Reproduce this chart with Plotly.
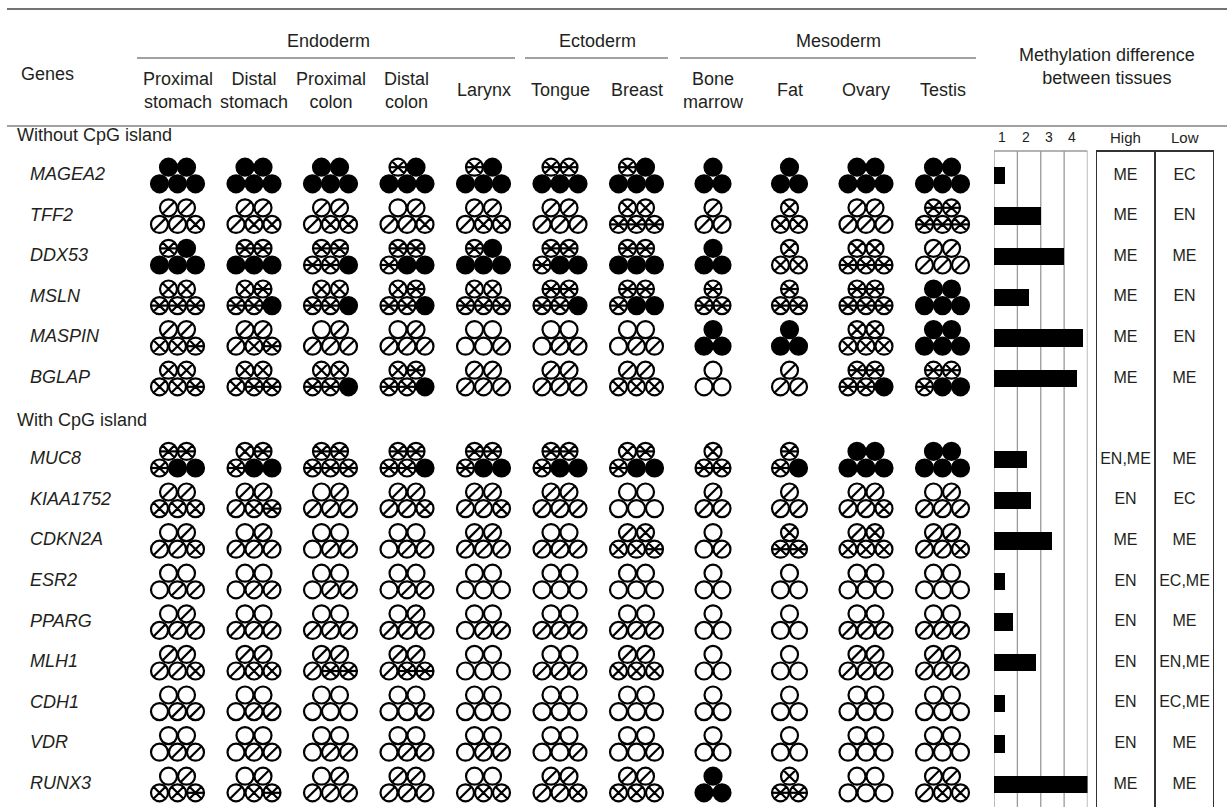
import math
import plotly.graph_objects as go

W, H = 1227, 807

# ---------------- data ----------------
tissues = ["Proximal<br>stomach", "Distal<br>stomach", "Proximal<br>colon", "Distal<br>colon",
           "Larynx", "Tongue", "Breast", "Bone<br>marrow", "Fat", "Ovary", "Testis"]
germ_layers = ["Endoderm", "Ectoderm", "Mesoderm"]

genes_without_cpg = ["MAGEA2", "TFF2", "DDX53", "MSLN", "MASPIN", "BGLAP"]
genes_with_cpg = ["MUC8", "KIAA1752", "CDKN2A", "ESR2", "PPARG", "MLH1", "CDH1", "VDR", "RUNX3"]

# methylation level of each sample (0 = none ... 4 = full), per tissue
# order within a tissue: top row left->right, then bottom row left->right
methylation = {
    "MAGEA2":   ["44444", "44444", "44444", "34444", "34444", "33444", "34444", "444", "444", "44444", "44444"],
    "TFF2":     ["11112", "11122", "11122", "01112", "11122", "11111", "22333", "111", "222", "11111", "33333"],
    "DDX53":    ["34444", "33444", "33334", "33344", "34444", "33344", "33444", "444", "222", "22333", "11111"],
    "MSLN":     ["22333", "23334", "22334", "23334", "22333", "33334", "33344", "333", "333", "33333", "44444"],
    "MASPIN":   ["11223", "11123", "01111", "01111", "00001", "00011", "00011", "444", "444", "22222", "44444"],
    "BGLAP":    ["22223", "22233", "22334", "23334", "11111", "11111", "11222", "000", "111", "33334", "33344"],
    "MUC8":     ["33344", "23344", "33333", "33334", "33344", "33344", "23344", "233", "334", "44444", "44444"],
    "KIAA1752": ["11222", "11123", "01111", "11112", "11112", "11111", "00000", "111", "111", "11112", "01111"],
    "CDKN2A":   ["01112", "01111", "00011", "00011", "11111", "00111", "12223", "001", "233", "12222", "11112"],
    "ESR2":     ["00011", "00011", "00011", "00011", "00000", "00000", "00000", "000", "000", "00000", "00000"],
    "PPARG":    ["01111", "00111", "00111", "01111", "00011", "00111", "00111", "000", "000", "00111", "00111"],
    "MLH1":     ["11112", "11122", "11133", "11133", "00000", "00111", "11222", "000", "000", "11111", "11111"],
    "CDH1":     ["00011", "00011", "00000", "00001", "00000", "00000", "00000", "000", "000", "00000", "00000"],
    "VDR":      ["00011", "00011", "00011", "00011", "00011", "00001", "00001", "000", "000", "00000", "00000"],
    "RUNX3":    ["01223", "01123", "01111", "11111", "00122", "11112", "11222", "444", "233", "00000", "11122"],
}

# methylation difference score (scale 1-4) per gene
diff_score = [0.47, 2.0, 3.0, 1.5, 3.8, 3.55,
              1.42, 1.6, 2.47, 0.47, 0.83, 1.8, 0.47, 0.47, 4.0]
high_tissue = ["ME", "ME", "ME", "ME", "ME", "ME",
               "EN,ME", "EN", "ME", "EN", "EN", "EN", "EN", "EN", "ME"]
low_tissue = ["EC", "EN", "ME", "EN", "EN", "ME",
              "ME", "EC", "ME", "EC,ME", "ME", "EN,ME", "EC,ME", "ME", "ME"]
score_ticks = ["1", "2", "3", "4"]

# ---------------- layout geometry (pixels) ----------------
X0, DX = 177.5, 76.5      # centre of first tissue column, column pitch
Y0, DY = 175.5, 40.6      # centre of first gene row, row pitch
SP_X, SP_Y = 18.0, 8.3    # circle pitch inside a cluster
CIRCLE = 17               # marker diameter
LW = 2.2                  # outline width
INK = "#231f20"
FONT = "Liberation Sans, Arial, Helvetica, sans-serif"
FS = 18

genes = genes_without_cpg + genes_with_cpg
gene_rows = list(range(len(genes_without_cpg))) + \
    [len(genes_without_cpg) + 1 + k for k in range(len(genes_with_cpg))]
section_rows = [-1, len(genes_without_cpg)]


def px(x):
    return x / W


def py(y):
    return 1 - y / H


offsets5 = [(-SP_X / 2, -SP_Y), (SP_X / 2, -SP_Y), (-SP_X, SP_Y), (0, SP_Y), (SP_X, SP_Y)]
offsets3 = [(0, -SP_Y), (-SP_X / 2, SP_Y), (SP_X / 2, SP_Y)]

pts = {lvl: ([], []) for lvl in range(5)}
for g, row in zip(genes, gene_rows):
    for ti, cell in enumerate(methylation[g]):
        offs = offsets5 if len(cell) == 5 else offsets3
        for ch, (ox, oy) in zip(cell, offs):
            lvl = int(ch)
            pts[lvl][0].append(ti + ox / DX)
            pts[lvl][1].append(row + oy / DY)

fig = go.Figure()


def circles(lvl, symbol, size):
    xs, ys = pts[lvl]
    fig.add_trace(go.Scatter(
        x=xs, y=ys, mode="markers", hoverinfo="skip", showlegend=False,
        marker=dict(symbol=symbol, size=size, color="black",
                    line=dict(color="black", width=LW))))


# plotly's line-ne spans the half-diagonal, line-ew spans 1.4 r
circles(0, "circle-open", CIRCLE)
circles(1, "circle-open", CIRCLE)
circles(1, "line-ne-open", CIRCLE / math.sqrt(2))
circles(2, "circle-x-open", CIRCLE)
circles(3, "circle-x-open", CIRCLE)
circles(3, "line-ew-open", CIRCLE / 1.4)
circles(4, "circle", CIRCLE)

# gene names and section titles
fig.add_trace(go.Scatter(
    x=[(30 - X0) / DX] * len(genes), y=gene_rows, mode="text",
    text=[f"<i>{g}</i>" for g in genes], textposition="middle right",
    textfont=dict(family=FONT, size=FS, color=INK), hoverinfo="skip", showlegend=False))
fig.add_trace(go.Scatter(
    x=[(17 - X0) / DX] * 2, y=[r + 2 / DY for r in section_rows], mode="text",
    text=["Without CpG island", "With CpG island"], textposition="middle right",
    textfont=dict(family=FONT, size=FS, color=INK), hoverinfo="skip", showlegend=False))

# methylation difference bars
fig.add_trace(go.Bar(
    x=diff_score, y=gene_rows, orientation="h", base=0, width=17.5 / DY,
    marker=dict(color="black", line=dict(width=0)), xaxis="x2", yaxis="y2",
    hoverinfo="skip", showlegend=False))

# high / low tissue labels
for col, vals in ((0.5, high_tissue), (1.5, low_tissue)):
    fig.add_trace(go.Scatter(
        x=[col] * len(vals), y=gene_rows, mode="text", text=vals,
        textfont=dict(family=FONT, size=16, color=INK), xaxis="x3", yaxis="y2",
        hoverinfo="skip", showlegend=False))

BAR_TOP = 151
shapes = []
# table rules
for y, x0, x1, w in ((9, 7, W, 1.5), (126, 7, W, 1.2),
                     (58, 137, 515, 1.2), (58, 525, 668, 1.2), (58, 680, 976, 1.2)):
    shapes.append(dict(type="line", xref="paper", yref="paper", x0=px(x0), x1=px(x1),
                       y0=py(y), y1=py(y), line=dict(color="#444", width=w)))
# score grid (under the bars)
for k in range(5):
    shapes.append(dict(type="line", xref="x2", yref="paper", x0=k, x1=k, layer="below",
                       y0=0, y1=py(BAR_TOP), line=dict(color="#9a9a9a", width=1.3)))
shapes.append(dict(type="line", xref="x2", yref="paper", x0=0, x1=4, layer="below",
                   y0=py(BAR_TOP), y1=py(BAR_TOP), line=dict(color="#9a9a9a", width=1.3)))
# high / low box
for k in range(3):
    shapes.append(dict(type="line", xref="x3", yref="paper", x0=k, x1=k,
                       y0=0, y1=py(BAR_TOP), line=dict(color="#333", width=2)))
shapes.append(dict(type="line", xref="x3", yref="paper", x0=0, x1=2,
                   y0=py(BAR_TOP), y1=py(BAR_TOP), line=dict(color="#333", width=2)))

ann = []


def label(text, x, y, size=FS, xref="paper", xanchor="center"):
    ann.append(dict(text=text, x=x if xref != "paper" else px(x), y=py(y), xref=xref, yref="paper",
                    xanchor=xanchor, yanchor="middle", showarrow=False,
                    font=dict(family=FONT, size=size, color=INK)))


label("Genes", 47, 74)
for name, cx in zip(germ_layers, (328, 597, 838)):
    label(name, cx, 41)
for ti, t in enumerate(tissues):
    label(t, X0 + ti * DX, 90)
label("Methylation difference<br>between tissues", 1107, 67)
for k, t in enumerate(score_ticks):
    label(t, k + 0.35, 137, size=14, xref="x2")
label("High", 0.5, 137, size=15, xref="x3")
label("Low", 1.5, 137, size=15, xref="x3")

hidden = dict(visible=False, showgrid=False, zeroline=False, fixedrange=True)
fig.update_layout(
    width=W, height=H, margin=dict(l=0, r=0, t=0, b=0),
    paper_bgcolor="white", plot_bgcolor="rgba(0,0,0,0)",
    shapes=shapes, annotations=ann, bargap=0,
    xaxis=dict(range=[-X0 / DX, (W - X0) / DX], domain=[0, 1], **hidden),
    yaxis=dict(range=[(H - Y0) / DY, -Y0 / DY], domain=[0, 1], **hidden),
    xaxis2=dict(range=[0, 4], domain=[px(994), px(1087.5)], anchor="y2", **hidden),
    xaxis3=dict(range=[0, 2], domain=[px(1096), px(1214)], anchor="y2", **hidden),
    yaxis2=dict(range=[(H - Y0) / DY, (BAR_TOP - Y0) / DY], domain=[0, py(BAR_TOP)],
                anchor="x2", **hidden),
)

fig.write_html("out.html")
